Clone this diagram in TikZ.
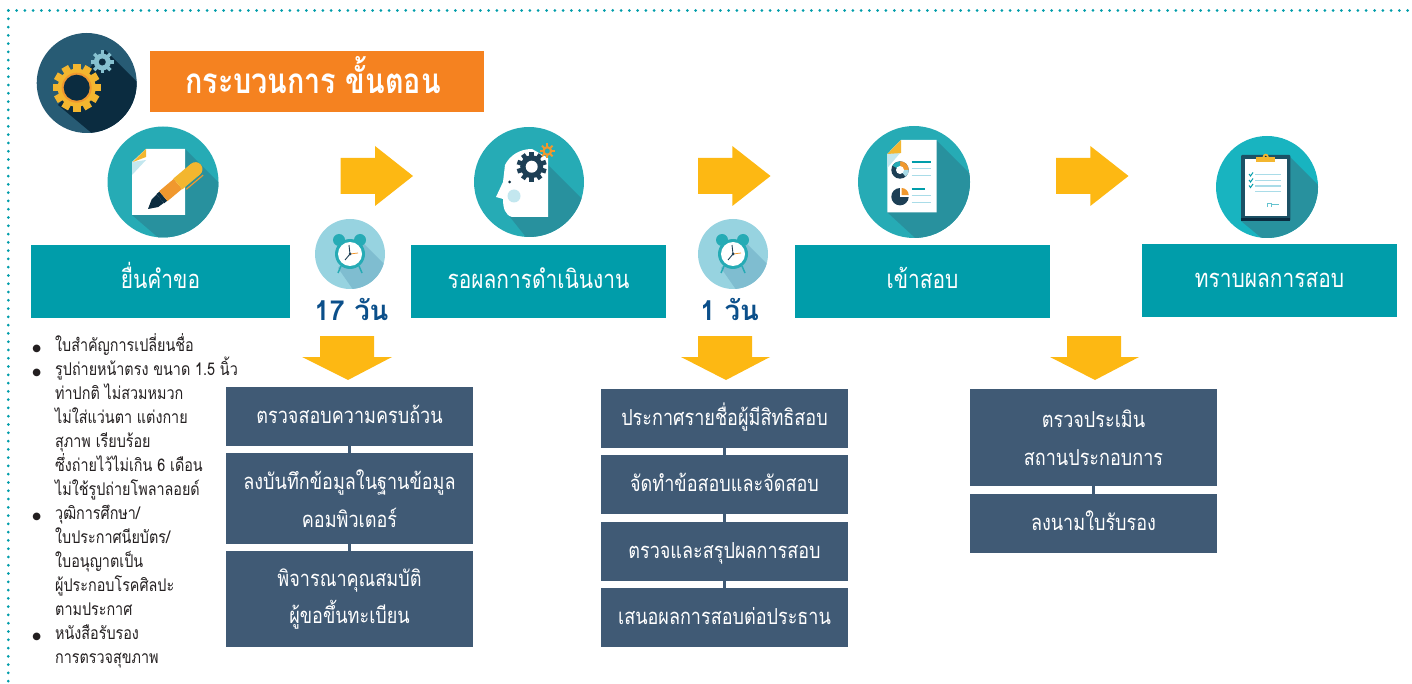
\documentclass[tikz,border=0pt]{standalone}
\usepackage{fontspec}
\setmainfont[Script=Thai,FakeStretch=0.82]{Loma}
\newfontfamily\plainthai[Script=Thai]{Loma}
\newfontfamily\symfont{DejaVu Sans}
\definecolor{tealbox}{HTML}{009DAA}
\definecolor{slatebox}{HTML}{405A75}
\definecolor{orangebox}{HTML}{F58220}
\definecolor{arrowy}{HTML}{FDB813}
\definecolor{icona}{HTML}{26ABB5}
\definecolor{shada}{HTML}{28919E}
\definecolor{iconb}{HTML}{18B4C0}
\definecolor{gearbg}{HTML}{275B74}
\definecolor{geardk}{HTML}{0B2C40}
\definecolor{clockbg}{HTML}{97D3E0}
\definecolor{clocksh}{HTML}{7FBDD0}
\definecolor{navy}{HTML}{0B4F8A}
\definecolor{dark}{HTML}{1D3F55}
\definecolor{pale}{HTML}{A9DCE8}
\definecolor{gold}{HTML}{F3B62F}
\definecolor{ora}{HTML}{F0982E}
\definecolor{txt}{HTML}{231F20}
\tikzset{
  headbox/.style={fill=tealbox,text=white,draw=none,inner sep=0pt,outer sep=0pt,anchor=north west,text height=14pt,text depth=0pt,font=\fontsize{25.5}{30}\selectfont},
  stepbox/.style={fill=slatebox,text=white,draw=none,inner sep=0pt,outer sep=0pt,minimum width=247pt,anchor=north west,align=center,font=\fontsize{22}{37.5}\selectfont},
  oneline/.style={text height=14.5pt,text depth=0pt},
  tick/.style={draw=slatebox,line width=2.5pt},
  yarrow/.style={fill=arrowy,draw=none},
  disc/.style={circle,draw=none,inner sep=0pt,outer sep=0pt},
  days/.style={text=navy,inner sep=0pt,anchor=base,font=\plainthai\fontsize{27.5}{32}\selectfont\bfseries},
  pline/.style={draw=pale,line width=1.4pt},
  tline/.style={draw=tealbox,line width=2pt},
}
\newcommand{\mygear}[8]{% cx cy body toothouter color holecolor holeR n
  \fill[#5] (#1,#2) circle[radius=#3];
  \foreach \gi in {1,...,#8}{
    \fill[#5,shift={(#1,#2)},rotate=\gi*360/#8] (-#3*0.2,0) rectangle (#3*0.2,#4);
  }
  \fill[#6] (#1,#2) circle[radius=#7];
}
\newcommand{\mybullet}{\llap{{\symfont\fontsize{10}{24}\selectfont ●}\hspace{14pt}}}
\newcommand{\clockicon}[3]{% name cx cy
  \node[disc,fill=clockbg,minimum size=70pt] (#1) at (#2,#3) {};
  \begin{scope}[shift={(#2,#3)}]
    \begin{scope}
      \clip (0,0) circle[radius=35];
      \fill[clocksh] (12,-12) -- (60,36) -- (20,60) -- (-12,14) -- cycle;
    \end{scope}
    \fill[icona] (-11,-14) circle[radius=6];
    \fill[icona] (10,-14) circle[radius=6];
    \draw[icona,line width=1.5pt] (-9,12) -- (-12,19) (9,12) -- (12,19);
    \fill[icona] (0,0) circle[radius=15];
    \fill[white] (0,0) circle[radius=12];
    \draw[dark,line width=0.9pt] (0,0) -- (-1,-9);
    \draw[dark,line width=0.9pt] (0,0) -- (-5,6);
    \draw[ora,line width=0.8pt] (0,0) -- (8,-1);
    \fill[dark] (0,0) circle[radius=1.5];
  \end{scope}
}
\begin{document}
\begin{tikzpicture}[x=1pt,y=-1pt]
\useasboundingbox (0,0) rectangle (1412,684);
% dotted border
\coordinate (bl) at (8.3,684);
\coordinate (tl) at (8.3,10.5);
\coordinate (tr) at (1412,10.5);
\draw[tealbox,line width=3pt,line cap=round,dash pattern=on 0pt off 8.28pt] (tl) -- (tr);
\draw[tealbox,line width=3pt,line cap=round,dash pattern=on 0pt off 8.28pt] (tl) -- (bl);

% title
\node[fill=orangebox,text=white,inner sep=0pt,outer sep=0pt,minimum width=334pt,minimum height=61pt] (title) at (317,81.5) {};
\node[text=white,inner sep=0pt,anchor=base,font=\fontsize{35}{40}\selectfont\bfseries] (titletext) at (313,94) {กระบวนการ ขั้นตอน};

% gear icon
\node[disc,fill=gearbg,minimum size=100pt] (cgear) at (86.7,83) {};
\begin{scope}
  \clip (86.7,83) circle[radius=50];
  \fill[geardk] (105,50) -- (165,110) -- (118,155) -- (58,105) -- cycle;
\end{scope}
\mygear{102.3}{62}{8.5}{11.5}{clockbg!85!gearbg}{gearbg!30!clockbg}{3.5}{8}
\fill[geardk] (102.3,62) circle[radius=3.5];
\mygear{76.7}{87.7}{19}{24}{gold}{ora}{15}{12}
\fill[geardk] (76.7,87.7) circle[radius=13];

% doc-pen icon
\node[disc,fill=icona,minimum size=111pt] (c1) at (163,182) {};
\begin{scope}
  \clip (163,182) circle[radius=55.5];
  \fill[shada] (185,149) -- (245,209) -- (190,265) -- (132,215) -- cycle;
\end{scope}
\fill[white] (132,162) -- (146,149) -- (185,149) -- (185,215) -- (132,215) -- cycle;
\fill[pale!70!white] (132,162) -- (146,160) -- (132,175) -- cycle;
\fill[gold] (146,149) -- (146,157) -- (133,162) -- cycle;
\begin{scope}[shift={(148,209)},rotate=40]
  \fill[geardk] (0,0) -- (9,-5) -- (16,-5.5) -- (16,5.5) -- (9,5) -- cycle;
  \fill[geardk] (16,-6) rectangle (20,6);
  \fill[ora] (20,-6.5) rectangle (39,6.5);
  \fill[gold] (39,-7) rectangle (62,7);
  \fill[gold] (62,0) circle[radius=7];
  \draw[ora,line width=1.2pt] (42,9.5) -- (64,9.5);
\end{scope}

% head icon
\node[disc,fill=icona,minimum size=110pt] (c2) at (529,182) {};
\begin{scope}
  \clip (529,182) circle[radius=55];
  \fill[shada] (548,165) -- (610,227) -- (560,280) -- (510,217) -- cycle;
\end{scope}
\fill[white] (496,197) -- (503,182) -- (505,165) .. controls (510,155) and (520,149) .. (532,149) -- (548,158) -- (548,217) -- (512,217) .. controls (505,215) and (503,208) .. (503,199) -- cycle;
\fill[pale!70!white] (514,196) circle[radius=6.5];
\fill[geardk] (509.5,182) circle[radius=1.5];
\mygear{531.7}{166.7}{11.5}{15}{dark}{white}{6}{10}
\mygear{547.3}{151}{5}{7.5}{ora}{icona}{2.5}{8}

% doc-chart icon
\node[disc,fill=icona,minimum size=112pt] (c3) at (914,182) {};
\begin{scope}
  \clip (914,182) circle[radius=56];
  \fill[shada] (936,140) -- (1000,204) -- (950,270) -- (887,212) -- cycle;
\end{scope}
\fill[white] (887.3,154) -- (901,140) -- (936.7,140) -- (936.7,212.3) -- (887.3,212.3) -- cycle;
\fill[pale!70!white] (887.3,154) -- (901,152) -- (887.3,168) -- cycle;
\fill[gold] (901,140) -- (901,153) -- (887.3,154) -- cycle;
% donut
\fill[dark] (900,170) circle[radius=8.7];
\fill[ora] (900,170) -- (900,161.3) arc[start angle=-90,end angle=0,radius=8.7] -- cycle;
\fill[pale] (900,170) -- (908.7,170) arc[start angle=0,end angle=50,radius=8.7] -- cycle;
\fill[icona] (900,170) -- (900,161.3) arc[start angle=-90,end angle=-150,radius=8.7] -- cycle;
\fill[white] (900,170) circle[radius=4];
% pie
\fill[dark] (900,196.7) circle[radius=8.7];
\fill[white] (900,196.7) -- (900,187) -- (910,187) -- (910,196.7) -- cycle;
\fill[ora] (901.5,195.2) -- (901.5,188) arc[start angle=-90,end angle=0,radius=7.2] -- cycle;
\draw[tline] (911.7,162) -- (930.7,162);
\draw[pline] (911.7,168.7) -- (930.7,168.7);
\draw[pline] (911.7,175.3) -- (930.7,175.3);
\draw[tline] (911.7,189) -- (925,189);
\draw[pline] (911.7,195.7) -- (930.7,195.7);
\draw[pline] (911.7,202.3) -- (930.7,202.3);

% clipboard icon
\node[disc,fill=iconb,minimum size=102pt] (c4) at (1267,187) {};
\begin{scope}
  \clip (1267,187) circle[radius=51];
  \fill[shada] (1288,155) -- (1350,217) -- (1300,270) -- (1241,221) -- cycle;
\end{scope}
\fill[dark!85!iconb,rounded corners=1pt] (1241,155) rectangle (1290.3,221);
\fill[geardk] (1241,218) rectangle (1290.3,221);
\fill[white] (1245,159.3) rectangle (1286.7,216);
\fill[gold] (1265.7,156.7) circle[radius=3];
\fill[geardk] (1265.7,156.7) circle[radius=1];
\fill[gold] (1256,157.5) rectangle (1275.3,162.3);
\draw[pline] (1255,174.3) -- (1280.7,174.3);
\draw[pline] (1255,180.3) -- (1280.7,180.3);
\draw[pline] (1255,186) -- (1280.7,186);
\draw[pline] (1255,191.7) -- (1280.7,191.7);
\draw[tealbox,line width=1pt] (1249,174) -- (1250.5,176) -- (1253,172.5);
\draw[tealbox,line width=1pt] (1249,180) -- (1250.5,182) -- (1253,178.5);
\draw[tealbox,line width=1pt] (1249,185.5) -- (1250.5,187.5) -- (1253,184);
\draw[pale!60!tealbox,line width=0.7pt] (1267,207) -- (1267,203) -- (1271,203) -- (1271,207) (1271,204) -- (1279,204);

% right arrows
\fill[yarrow] (340.5,158) -- (375,158) -- (375,146) -- (413,176) -- (375,206) -- (375,194) -- (340.5,194) -- cycle;
\fill[yarrow] (698,158) -- (732.3,158) -- (732.3,146) -- (770.5,176) -- (732.3,206) -- (732.3,194) -- (698,194) -- cycle;
\fill[yarrow] (1056,158) -- (1090.3,158) -- (1090.3,146) -- (1128.5,176) -- (1090.3,206) -- (1090.3,194) -- (1056,194) -- cycle;

% clocks
\clockicon{clk1}{350}{254}
\clockicon{clk2}{733}{254}
\node[days] (d1) at (351.5,320) {17 วัน};
\node[days] (d2) at (729.5,320) {1 วัน};

% header boxes
\node[headbox,minimum width=259pt,minimum height=73pt] (h1) at (31,245) {ยื่นคำขอ};
\node[headbox,minimum width=255pt,minimum height=73pt] (h2) at (411,245) {รอผลการดำเนินงาน};
\node[headbox,minimum width=255pt,minimum height=73pt] (h3) at (795,245) {เข้าสอบ};
\node[headbox,minimum width=255pt,minimum height=73pt] (h4) at (1142,244) {ทราบผลการสอบ};

% down arrows
\fill[yarrow] (320,336) -- (374,336) -- (374,357) -- (392,357) -- (348,380) -- (302,357) -- (320,357) -- cycle;
\fill[yarrow] (698,336) -- (752,336) -- (752,357) -- (770,357) -- (726,380) -- (681,357) -- (698,357) -- cycle;
\fill[yarrow] (1067,336) -- (1121,336) -- (1121,357) -- (1139,357) -- (1095,380) -- (1050,357) -- (1067,357) -- cycle;

% step boxes column 1
\node[stepbox,oneline,minimum height=59pt] (a1) at (226,387) {ตรวจสอบความครบถ้วน};
\node[stepbox,minimum height=91pt] (a2) at (226,453) {ลงบันทึกข้อมูลในฐานข้อมูล\\คอมพิวเตอร์};
\node[stepbox,minimum height=96pt] (a3) at (226,551) {พิจารณาคุณสมบัติ\\ผู้ขอขึ้นทะเบียน};
\draw[tick] (a1) -- (a2);
\draw[tick] (a2) -- (a3);

% step boxes column 2
\node[stepbox,oneline,minimum height=59pt] (b1) at (601,389) {ประกาศรายชื่อผู้มีสิทธิสอบ};
\node[stepbox,oneline,minimum height=59pt] (b2) at (601,455) {จัดทำข้อสอบและจัดสอบ};
\node[stepbox,oneline,minimum height=59pt] (b3) at (601,522) {ตรวจและสรุปผลการสอบ};
\node[stepbox,oneline,minimum height=59pt] (b4) at (601,588) {เสนอผลการสอบต่อประธาน};
\draw[tick] (b1) -- (b2);
\draw[tick] (b2) -- (b3);
\draw[tick] (b3) -- (b4);

% step boxes column 3
\node[stepbox,minimum height=97pt] (e1) at (970,389) {ตรวจประเมิน\\สถานประกอบการ};
\node[stepbox,oneline,minimum height=59pt] (e2) at (970,494) {ลงนามใบรับรอง};
\draw[tick] (e1) -- (e2);

% list
\node[anchor=north west,inner sep=0pt,text=txt,align=left,font=\fontsize{17.5}{24}\selectfont] (docs) at (55,333) {%
\mybullet ใบสำคัญการเปลี่ยนชื่อ\\
\mybullet รูปถ่ายหน้าตรง ขนาด 1.5 นิ้ว\\
ท่าปกติ ไม่สวมหมวก\\
ไม่ใส่แว่นตา แต่งกาย\\
สุภาพ เรียบร้อย\\
ซึ่งถ่ายไว้ไม่เกิน 6 เดือน\\
ไม่ใช้รูปถ่ายโพลาลอยด์\\
\mybullet วุฒิการศึกษา/\\
ใบประกาศนียบัตร/\\
ใบอนุญาตเป็น\\
ผู้ประกอบโรคศิลปะ\\
ตามประกาศ\\
\mybullet หนังสือรับรอง\\
การตรวจสุขภาพ};
\end{tikzpicture}
\end{document}
